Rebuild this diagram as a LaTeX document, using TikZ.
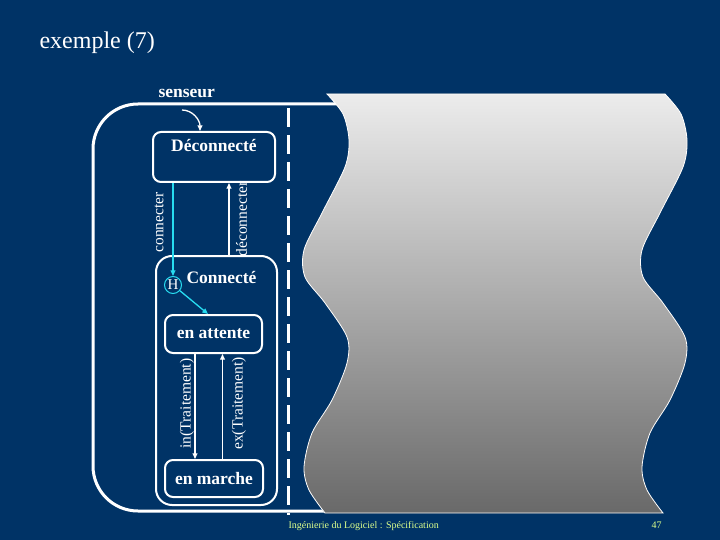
\documentclass[tikz,border=0pt]{standalone}
\usepackage{fontspec}
\setmainfont{Liberation Serif}
\usepackage{tikz}
\usetikzlibrary{arrows.meta,positioning,calc}
\definecolor{slidenavy}{RGB}{0,51,102}
\definecolor{histcyan}{RGB}{40,220,240}
\definecolor{footyellow}{RGB}{220,255,140}
\definecolor{wavetop}{RGB}{236,236,236}
\definecolor{wavebottom}{RGB}{105,105,105}
\tikzset{
  statebox/.style={rectangle, rounded corners=8pt, draw=white, line width=2pt, inner sep=0pt},
  superstate/.style={statebox, rounded corners=16pt},
  statename/.style={text=white, font=\fontsize{17.5}{20}\selectfont\bfseries},
  trans/.style={-{Triangle[length=2mm,width=1.7mm]}, line width=1.3pt, white},
  transcyan/.style={trans, histcyan},
  vlabel/.style={text=white, rotate=90, font=\fontsize{15.5}{17}\selectfont, inner sep=0pt},
  history/.style={circle, draw=histcyan, line width=1pt, minimum size=17pt, inner sep=0pt,
                  text=white, font=\fontsize{15}{17}\selectfont},
  footer/.style={text=footyellow, font=\fontsize{10}{12}\selectfont, anchor=base west},
}
\begin{document}
\begin{tikzpicture}[x=1pt,y=-1pt]
\useasboundingbox (0,0) rectangle (720,540);
\fill[slidenavy] (0,0) rectangle (720,540);
\node[anchor=base west, text=white, font=\fontsize{24}{28}\selectfont] (titre) at (36,49) {exemple (7)};

% etat englobant senseur
\draw[white, line width=3pt, rounded corners=45pt] (345,104) -- (93,104) -- (93,511) -- (345,511);
\node[statename, anchor=base west] (senseur) at (155,98) {senseur};
\draw[white, line width=3pt, dash pattern=on 19pt off 8pt] (288,108) -- (288,515);

% region masquee
\fill[top color=wavetop, bottom color=wavebottom, draw=white, line width=0.8pt]
  plot[smooth] coordinates {(327,94) (343,114) (349,140) (345,167) (322,213) (304,250) (305,277)
    (325,303) (347,337) (347,363) (332,400) (312,433) (304,467) (309,490) (325,513)}
  -- plot[smooth] coordinates {(663,513) (647,490) (642,467) (650,433) (670,400) (685,363)
    (685,337) (663,303) (643,277) (642,250) (660,213) (683,167) (687,140) (681,114) (665,94)}
  -- cycle;

% etats
\node[statebox, minimum width=122pt, minimum height=50pt] (deco) at (214,157) {};
\node[statename, below=5pt of deco.north] (decoName) {D\'econnect\'e};
\node[superstate, minimum width=121pt, minimum height=249pt] (conn) at (216.5,380.5) {};
\node[statename] (connName) at (221.5,278) {Connect\'e};
\node[history] (hist) at (173,285) {H};
\node[statebox, statename, minimum width=97pt, minimum height=38pt] (attente) at (213.5,334) {en attente};
\node[statebox, statename, minimum width=98pt, minimum height=37pt] (marche) at (214,478.5) {en marche};

% transitions
\coordinate (senseurIn) at (182,110);
\draw[trans] (senseurIn) to[out=0, in=90] ([xshift=-14pt]deco.north);
\draw[transcyan] (deco.south -| hist.north) -- (hist.north)
  node[xshift=-14pt, yshift=7pt, vlabel, midway] {connecter};
\draw[trans] ([xshift=15pt]deco.south |- conn.north) -- ([xshift=15pt]deco.south)
  node[xshift=12.5pt, vlabel, midway] {d\'econnecter};
\draw[transcyan] (hist) -- ([xshift=-5.5pt]attente.north);
\draw[trans] ([xshift=-18.5pt]attente.south) -- ([xshift=-18.5pt]attente.south |- marche.north)
  node[xshift=-8pt, yshift=3pt, vlabel, midway] {in(Traitement)};
\draw[trans] ([xshift=9pt]attente.south |- marche.north) -- ([xshift=9pt]attente.south)
  node[xshift=16.5pt, yshift=3pt, vlabel, midway] {ex(Traitement)};

\node[footer] (pied) at (285,528) {Ing\'enierie du Logiciel : Sp\'ecification};
\node[footer] (page) at (648,528) {47};
\end{tikzpicture}
\end{document}
